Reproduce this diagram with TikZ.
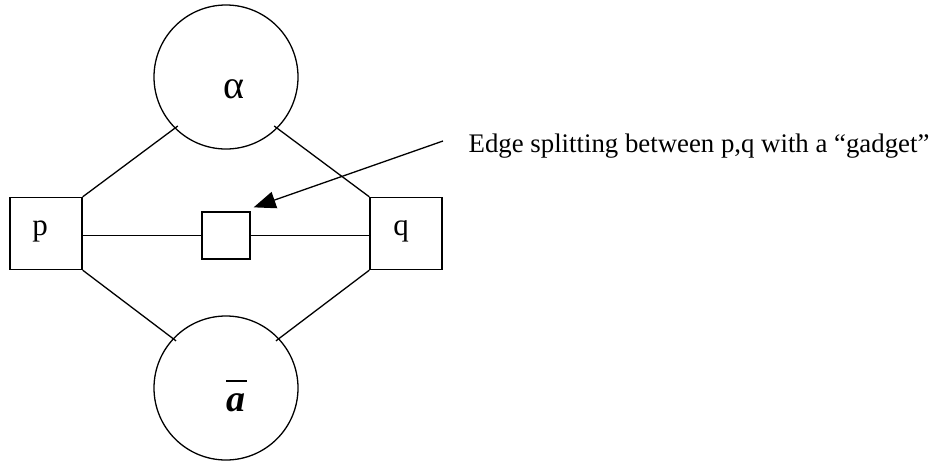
\documentclass[tikz,border=0pt]{standalone}
\usepackage{fontspec}
\setmainfont{Liberation Serif}
\usetikzlibrary{arrows.meta,calc}
\begin{document}
\begin{tikzpicture}[x=1pt,y=-1pt,line width=1.3pt,
  sq/.style={draw,minimum size=72pt,inner sep=0pt},
  gad/.style={draw,minimum width=48pt,minimum height=47pt,inner sep=0pt},
  ring/.style={draw,circle,minimum size=144pt,inner sep=0pt},
  lbl/.style={font=\fontsize{31}{36}\selectfont,inner sep=0pt},
  link/.style={shorten >=-4pt}]
\useasboundingbox (0,0) rectangle (934,461);

% the two circles
\node[ring] (top) at (226,77) {};
\node[ring] (bot) at (226,388) {};

% end boxes and the gadget between them
\node[sq] (p) at (46,233.5) {};
\node[sq] (q) at (406,233.5) {};
\node[gad] (g) at (226,235.5) {};

% labels
\node[lbl,anchor=base] (pl) at (40,235) {p};
\node[lbl,anchor=base] (ql) at (401,235) {q};
\node[lbl,anchor=base,font=\fontsize{40}{44}\selectfont] (al) at (234,98) {α};
\node[lbl,anchor=base,font=\fontsize{38}{42}\selectfont\bfseries\itshape] (bl) at (236,411) {a};
\draw[line width=1.1pt] ($(bl.base)+(-10,-30)$) -- ($(bl.base)+(11,-30)$);

% connections
\draw[link] (p.north east) -- (top.225);
\draw[link] (q.north west) -- (top.315);
\draw[link] (p.south east) -- (bot.137);
\draw[link] (q.south west) -- (bot.43);
\draw (p.east |- g.west) -- (g.west);
\draw (g.east) -- (q.west |- g.east);

% annotation
\node[lbl,anchor=base west,font=\fontsize{26.8}{32}\selectfont] (note) at (468,152) {Edge splitting between p,q with a “gadget”};
\coordinate (tail) at (443,141);
\draw[-{Triangle[length=22pt,width=17pt]}] (tail) -- ([shift={(3,-4)}]g.north east);
\end{tikzpicture}
\end{document}
